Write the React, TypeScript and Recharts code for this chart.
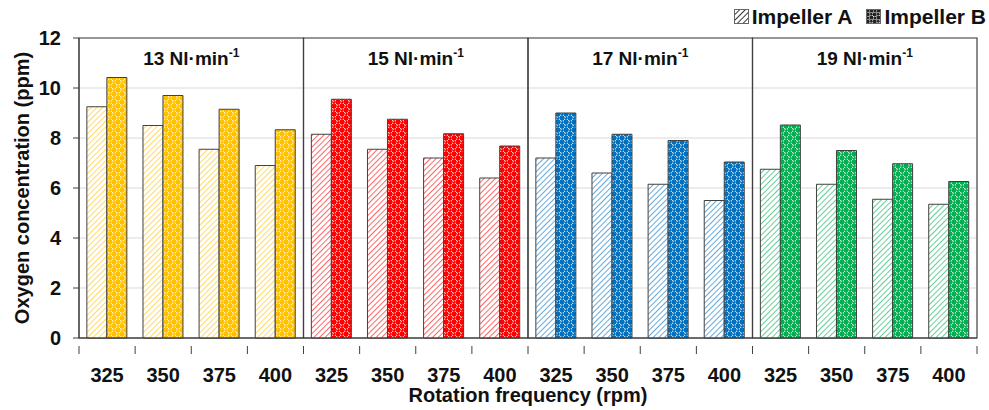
import React from "react";
import {
  BarChart,
  Bar,
  Cell,
  XAxis,
  YAxis,
  CartesianGrid,
  ReferenceArea,
} from "recharts";

const flows = ["13", "15", "17", "19"];
const rpms = ["325", "350", "375", "400"];
const impellerA = [9.25, 8.5, 7.55, 6.9, 8.15, 7.55, 7.2, 6.4, 7.2, 6.6, 6.15, 5.5, 6.75, 6.15, 5.55, 5.35];
const impellerB = [10.42, 9.7, 9.15, 8.33, 9.55, 8.75, 8.17, 7.68, 9.0, 8.15, 7.9, 7.04, 8.52, 7.5, 6.97, 6.26];
const yTicks = [0, 2, 4, 6, 8, 10, 12];
const flowColors = ["#FFC000", "#FF0000", "#0070C0", "#00B050"];

const FONT = "'Liberation Sans', Arial, sans-serif";
const INK = "#111";

const data = flows.flatMap((f, gi) =>
  rpms.map((r, ri) => ({
    key: `${f}-${r}`,
    group: gi,
    a: impellerA[gi * 4 + ri],
    b: impellerB[gi * 4 + ri],
  }))
);

function Patterns() {
  return (
    <defs>
      {flowColors.map((c, i) => (
        <React.Fragment key={i}>
          <pattern id={`hatch${i}`} width="4" height="4" patternUnits="userSpaceOnUse" patternTransform="rotate(45)">
            <rect width="4" height="4" fill="#fff" />
            <line x1="0" y1="0" x2="0" y2="4" stroke={c} strokeWidth="1.6" strokeOpacity="0.75" />
          </pattern>
          <pattern id={`dots${i}`} width="8" height="8" patternUnits="userSpaceOnUse">
            <rect width="8" height="8" fill={c} />
            <rect x="0" y="0" width="4" height="4" fill="#fff" />
            <rect x="4" y="4" width="4" height="4" fill="#fff" />
            <circle cx="2" cy="2" r="1.9" fill={c} />
            <circle cx="6" cy="6" r="1.9" fill={c} />
            <circle cx="1.5" cy="1.4" r="0.6" fill="#fff" fillOpacity="0.6" />
            <circle cx="5.5" cy="5.4" r="0.6" fill="#fff" fillOpacity="0.6" />
          </pattern>
        </React.Fragment>
      ))}
    </defs>
  );
}

function XTick(props: any) {
  const { x, y, payload, index, visibleTicksCount } = props;
  const off = payload.offset ?? 28;
  const rpm = String(payload.value).split("-")[1];
  const last = index === (visibleTicksCount ?? 16) - 1;
  return (
    <g>
      <line x1={x - off} y1={y} x2={x - off} y2={y + 8} stroke="#404040" />
      {last && <line x1={x + off} y1={y} x2={x + off} y2={y + 8} stroke="#404040" />}
      <text x={x} y={y + 36} textAnchor="middle" fontFamily={FONT} fontWeight="bold" fontSize={20} fill={INK}>
        {rpm}
      </text>
    </g>
  );
}

function GroupLabel({ viewBox, flow }: any) {
  if (!viewBox) return null;
  const cx = viewBox.x + viewBox.width / 2;
  return (
    <text x={cx} y={viewBox.y + 27} textAnchor="middle" fontFamily={FONT} fontWeight="bold" fontSize={19} fill={INK}>
      {`${flow} Nl·min`}
      <tspan fontSize={12} dy={-8}>-1</tspan>
    </text>
  );
}

function LegendBox() {
  const item = (id: string, label: string) => (
    <div style={{ display: "flex", alignItems: "center", marginLeft: 14 }}>
      <svg width={16} height={16} style={{ marginRight: 2 }}>
        <rect x={0.5} y={0.5} width={14} height={14} fill={`url(#${id})`} stroke="#666" />
      </svg>
      <span style={{ fontFamily: FONT, fontWeight: "bold", fontSize: 21, color: INK }}>{label}</span>
    </div>
  );
  return (
    <div style={{ position: "absolute", top: 5, right: 3, display: "flex" }}>
      <svg width={0} height={0} style={{ position: "absolute" }}>
        <defs>
          <pattern id="legA" width="4" height="4" patternUnits="userSpaceOnUse" patternTransform="rotate(45)">
            <rect width="4" height="4" fill="#fff" />
            <line x1="0" y1="0" x2="0" y2="4" stroke="#222" strokeWidth="1.8" />
          </pattern>
          <pattern id="legB" width="7" height="7" patternUnits="userSpaceOnUse">
            <rect width="7" height="7" fill="#222" />
            <rect x="0" y="0" width="3.5" height="3.5" fill="#fff" />
            <rect x="3.5" y="3.5" width="3.5" height="3.5" fill="#fff" />
            <circle cx="1.75" cy="1.75" r="1.5" fill="#222" />
            <circle cx="5.25" cy="5.25" r="1.5" fill="#222" />
          </pattern>
        </defs>
      </svg>
      {item("legA", "Impeller A")}
      {item("legB", "Impeller B")}
    </div>
  );
}

export default function App() {
  return (
    <div style={{ position: "absolute", left: 0, top: 0, width: 989, height: 410, background: "#fff" }}>
      <BarChart
        width={989}
        height={410}
        data={data}
        margin={{ top: 38, right: 12, bottom: 0, left: 0 }}
        barCategoryGap="14%"
        barGap={0}
      >
        <Patterns />
        <CartesianGrid vertical={false} stroke="#d9d9d9" strokeWidth={1.2} />
        <XAxis
          dataKey="key"
          height={72}
          interval={0}
          axisLine={{ stroke: "#404040" }}
          tickLine={false}
          tick={<XTick />}
          label={{
            content: ({ viewBox }: any) => (
              <text
                x={viewBox.x + viewBox.width / 2}
                y={viewBox.y + 64}
                textAnchor="middle"
                fontFamily={FONT}
                fontWeight="bold"
                fontSize={20}
                fill={INK}
              >
                Rotation frequency (rpm)
              </text>
            ),
          }}
        />
        <YAxis
          width={79}
          domain={[0, 12]}
          ticks={yTicks}
          interval={0}
          tickSize={6}
          tickMargin={12}
          axisLine={{ stroke: "#404040" }}
          tickLine={{ stroke: "#404040" }}
          tick={{ fontFamily: FONT, fontWeight: "bold", fontSize: 20, fill: INK }}
          label={{
            content: ({ viewBox }: any) => (
              <text
                x={22}
                y={viewBox.y + viewBox.height / 2}
                transform={`rotate(-90, 22, ${viewBox.y + viewBox.height / 2})`}
                textAnchor="middle"
                dominantBaseline="central"
                fontFamily={FONT}
                fontWeight="bold"
                fontSize={20}
                fill={INK}
              >
                Oxygen concentration (ppm)
              </text>
            ),
          }}
        />
        <Bar dataKey="a" name="Impeller A" isAnimationActive={false} stroke="#404040" strokeWidth={1}>
          {data.map((d, i) => (
            <Cell key={i} fill={`url(#hatch${d.group})`} />
          ))}
        </Bar>
        <Bar dataKey="b" name="Impeller B" isAnimationActive={false} stroke="#404040" strokeWidth={1}>
          {data.map((d, i) => (
            <Cell key={i} fill={`url(#dots${d.group})`} />
          ))}
        </Bar>
        {flows.map((f) => (
          <ReferenceArea
            key={f}
            x1={`${f}-325`}
            x2={`${f}-400`}
            y1={0}
            y2={12}
            fill="none"
            stroke="#404040"
            strokeWidth={1.2}
            ifOverflow="visible"
            label={<GroupLabel flow={f} />}
          />
        ))}
      </BarChart>
      <LegendBox />
    </div>
  );
}
